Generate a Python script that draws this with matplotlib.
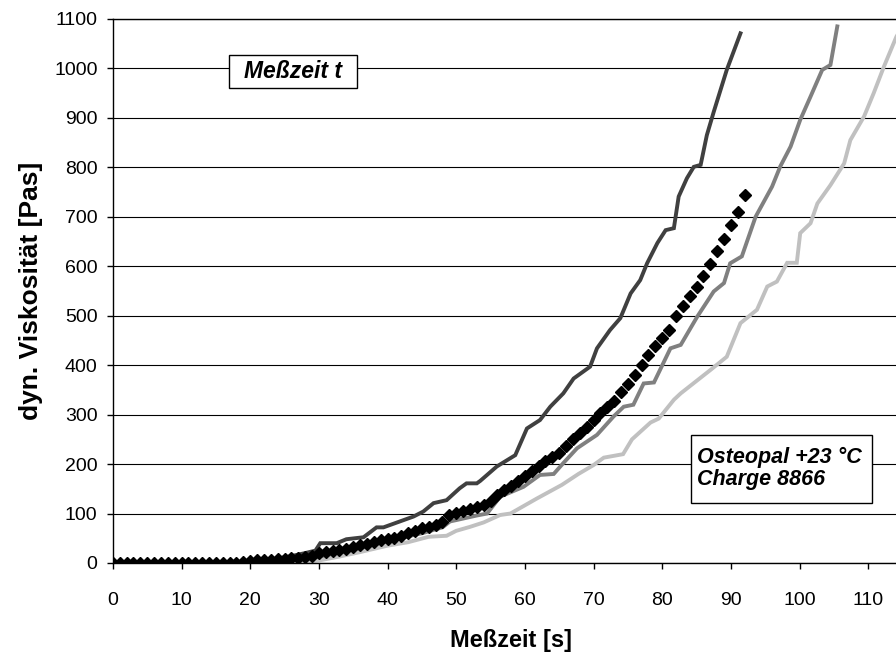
import numpy as np
import matplotlib
matplotlib.use("Agg")
import matplotlib.pyplot as plt
from matplotlib.patches import Rectangle

plt.rcParams["font.family"] = ["Liberation Sans", "DejaVu Sans"]

# Messung 1 (dunkelgrau)
x_dark = [0, 19, 20, 22, 24, 26, 28, 29.5, 30.2, 32.6, 34.0, 36.5, 38.4, 39.4, 41.8,
          43.8, 45.2, 46.7, 48.6, 50.5, 51.5, 53.0, 53.5, 55.9, 58.6, 60.3, 62.2,
          63.7, 65.6, 67.1, 69.5, 70.5, 72.4, 73.9, 75.4, 76.8, 77.8, 79.3, 80.5,
          81.7, 82.4, 83.6, 84.6, 85.6, 86.5, 87.5, 89.4, 91.4]
y_dark = [0, 0, 3, 6, 9, 14, 20, 25, 40, 40, 48, 52, 72, 72, 84,
          94, 104, 121, 127, 151, 161, 161, 166, 195, 218, 272, 289,
          316, 343, 373, 397, 434, 471, 495, 545, 572, 606, 647, 673,
          677, 741, 778, 801, 805, 865, 912, 997, 1071]

# Messung 2 (mittelgrau)
x_mid = [0, 24, 26, 28, 30, 32, 35, 38, 40, 42, 45, 48, 49.1, 50.1, 53.0, 54.5,
         56.4, 59.8, 62.2, 64.2, 65.6, 67.6, 70.5, 72.9, 74.4, 75.8, 77.3, 78.8,
         81.2, 82.7, 85.1, 87.5, 89.0, 89.9, 91.6, 93.6, 96.0, 97.2, 98.7, 100.1,
         101.6, 103.3, 104.5, 105.5]
y_mid = [0, 0, 3, 6, 10, 16, 25, 36, 44, 51, 60, 72, 84, 87, 96, 100,
         134, 154, 178, 180, 202, 232, 259, 296, 316, 320, 363, 365,
         434, 441, 498, 549, 566, 606, 620, 700, 761, 802, 842, 896,
         943, 997, 1007, 1085]

# Messung 3 (hellgrau)
x_light = [0, 26, 28, 30, 33, 36, 40, 43, 46, 48.6, 50, 52, 54, 56.4, 57.9, 61.7,
           65.4, 67.8, 70.0, 71.5, 74.3, 75.6, 78.3, 79.5, 81.7, 82.7, 87.0, 89.4,
           91.4, 93.8, 95.3, 96.7, 98.2, 99.6, 100.1, 101.6, 102.6, 104.5, 106.5,
           107.4, 109.4, 110.8, 112.3, 114.1, 115.0]
y_light = [0, 0, 2, 5, 13, 22, 35, 42, 53, 55, 65, 73, 82, 97, 100, 130,
           158, 180, 198, 213, 220, 250, 284, 292, 330, 343, 390, 417,
           485, 512, 559, 569, 607, 607, 667, 687, 727, 764, 808,
           855, 903, 950, 1004, 1064, 1085]

# Mittelwert (Rauten, 1 s Abstand)
x_mean = np.arange(0, 93)
y_mean = [0] * 19 + [
    2, 4, 5, 6, 7, 8, 9, 10, 11, 12, 14,
    20, 22, 24, 26, 29, 32, 36, 39, 43, 46,
    49, 51, 55, 60, 65, 70, 73, 77, 82, 97,
    101, 105, 110, 114, 118, 125, 138, 147, 155, 165,
    176, 186, 196, 207, 214, 222, 237, 250, 262, 275,
    290, 303, 315, 327, 345, 362, 380, 400, 420, 438,
    455, 472, 500, 520, 540, 558, 580, 605, 630, 655,
    683, 710, 745]

fig = plt.figure(figsize=(8.96, 6.55), dpi=100)
ax = fig.add_axes([0.126, 0.1405, 0.874, 0.8305])

ax.plot(x_dark, y_dark, color="#404040", lw=2.8, solid_joinstyle="miter")
ax.plot(x_mid, y_mid, color="#808080", lw=2.8, solid_joinstyle="miter")
ax.plot(x_light, y_light, color="#c0c0c0", lw=2.8, solid_joinstyle="miter")
ax.plot(x_mean, y_mean, ls="none", marker="D", ms=5.8, color="black")

ax.set_xlim(0, 114.05)
ax.set_ylim(0, 1100)
ax.set_xticks(np.arange(0, 120, 10))
ax.set_yticks(np.arange(0, 1200, 100))
ax.tick_params(axis="both", direction="out", length=4, width=1, labelsize=14,
               color="black")
ax.tick_params(axis="x", pad=17)
ax.tick_params(axis="y", pad=7)
ax.yaxis.grid(True, color="black", lw=0.8)
ax.set_axisbelow(True)
ax.spines["right"].set_visible(False)
for s in ["left", "bottom", "top"]:
    ax.spines[s].set_linewidth(1.0)

ax.set_xlabel("Meßzeit [s]", fontsize=17, fontweight="bold", labelpad=14)
ax.xaxis.label.set_x(0.508)
ax.set_ylabel("dyn. Viskosität [Pas]", fontsize=19, fontweight="bold", labelpad=8)

# Textfelder
ax.add_patch(Rectangle((0.1481, 0.8732), 0.1635, 0.0606, transform=ax.transAxes,
                       fc="white", ec="black", lw=1, zorder=5))
ax.text(0.2299, 0.9026, "Meßzeit t", transform=ax.transAxes, fontsize=16.5,
        fontweight="bold", fontstyle="italic", ha="center", va="center", zorder=6)
ax.add_patch(Rectangle((0.7382, 0.1103), 0.2311, 0.125, transform=ax.transAxes,
                       fc="white", ec="black", lw=1, zorder=5))
ax.text(0.7458, 0.1737, "Osteopal +23 °C\nCharge 8866", transform=ax.transAxes,
        fontsize=15.5, fontweight="bold", fontstyle="italic", ha="left",
        va="center", linespacing=1.1, zorder=6)

fig.savefig("out.png", dpi=100)
